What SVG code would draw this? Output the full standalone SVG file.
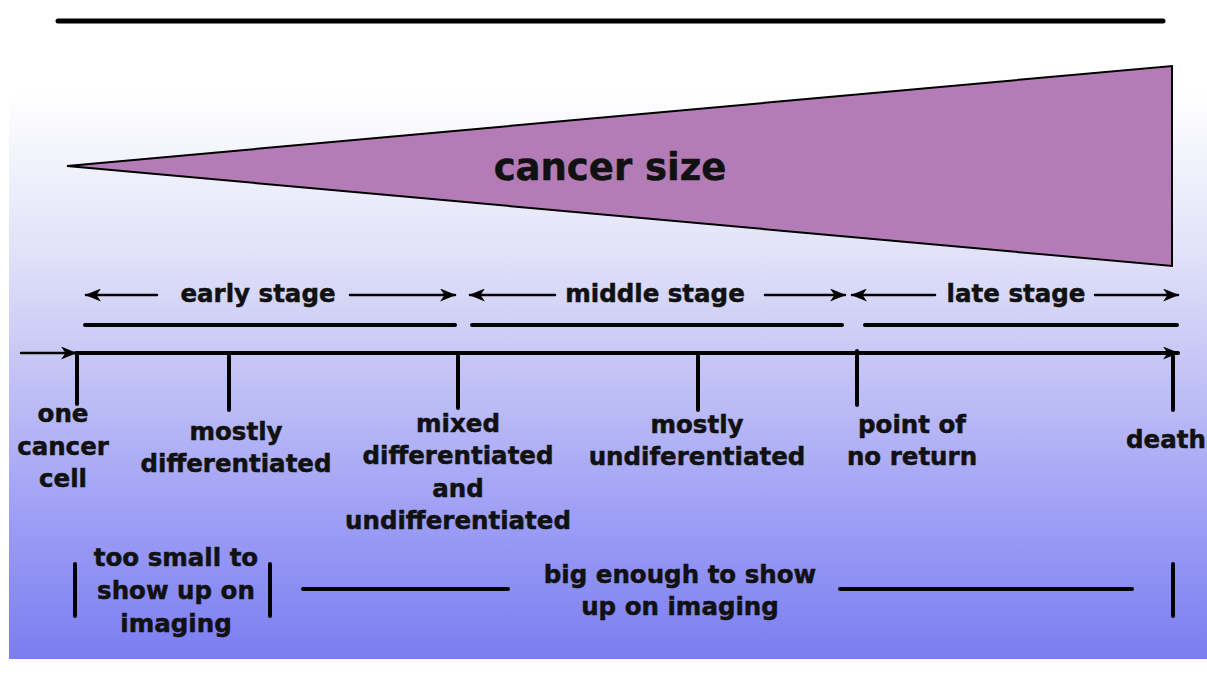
<svg xmlns="http://www.w3.org/2000/svg" width="1207" height="697" viewBox="0 0 1207 697">
<defs>
<linearGradient id="bg" x1="0" y1="0" x2="0" y2="1">
<stop offset="0" stop-color="#ffffff"/>
<stop offset="0.14" stop-color="#ffffff"/>
<stop offset="0.38" stop-color="#e2e2f9"/>
<stop offset="0.55" stop-color="#c6c6f6"/>
<stop offset="0.8" stop-color="#9b9cf5"/>
<stop offset="1" stop-color="#7b7df0"/>
</linearGradient>
<marker id="ah" viewBox="0 0 16 13" refX="15" refY="6.5" markerWidth="16" markerHeight="13" markerUnits="userSpaceOnUse" orient="auto">
<path d="M0,0 L16,6.5 L0,13 L4.5,6.5 Z" fill="#000"/>
</marker>
</defs>
<style>
text{font-family:"DejaVu Sans","Liberation Sans",sans-serif;font-weight:bold;fill:#111;stroke:#111;stroke-width:0.5;text-anchor:middle}
.lbl{font-size:24.5px}
.stg{font-size:24.5px}
.ln{stroke:#000;stroke-linecap:round;fill:none}
.thick{stroke-width:4}
.thin{stroke-width:2.5}
</style>
<rect x="9" y="0" width="1198" height="659" fill="url(#bg)"/>
<line class="ln" x1="58" y1="21" x2="1163" y2="21" stroke-width="5"/>

<g id="cancer-size">
<polygon points="67,166 1172,66 1172,266" fill="#b47cb6" stroke="#000" stroke-width="2"/>
<text x="610" y="180" font-size="37px">cancer size</text>
</g>

<g id="connectors">
<line class="ln thin" x1="157" y1="295" x2="86" y2="295" marker-end="url(#ah)"/>
<line class="ln thin" x1="350" y1="295" x2="455" y2="295" marker-end="url(#ah)"/>
<line class="ln thin" x1="555" y1="295" x2="470" y2="295" marker-end="url(#ah)"/>
<line class="ln thin" x1="765" y1="295" x2="845" y2="295" marker-end="url(#ah)"/>
<line class="ln thin" x1="935" y1="295" x2="852" y2="295" marker-end="url(#ah)"/>
<line class="ln thin" x1="1095" y1="295" x2="1178" y2="295" marker-end="url(#ah)"/>
<line class="ln thick" x1="85" y1="325" x2="455" y2="325"/>
<line class="ln thick" x1="472" y1="325" x2="842" y2="325"/>
<line class="ln thick" x1="865" y1="325" x2="1177" y2="325"/>
<line class="ln thin" x1="21" y1="353" x2="76" y2="353" marker-end="url(#ah)"/>
<line class="ln thick" x1="76" y1="353" x2="1178" y2="353" marker-end="url(#ah)"/>
<line class="ln thick" x1="77" y1="353" x2="77" y2="404"/>
<line class="ln thick" x1="229" y1="356" x2="229" y2="410"/>
<line class="ln thick" x1="458" y1="356" x2="458" y2="408"/>
<line class="ln thick" x1="698" y1="356" x2="698" y2="410"/>
<line class="ln thick" x1="857" y1="351" x2="857" y2="405"/>
<line class="ln thick" x1="1173" y1="356" x2="1173" y2="410"/>
<line class="ln thick" x1="75" y1="564" x2="75" y2="616"/>
<line class="ln thick" x1="270" y1="564" x2="270" y2="616"/>
<line class="ln thick" x1="303" y1="589" x2="508" y2="589"/>
<line class="ln thick" x1="840" y1="589" x2="1132" y2="589"/>
<line class="ln thick" x1="1173" y1="564" x2="1173" y2="616"/>
</g>

<g id="early-stage"><text class="stg" x="258" y="302">early stage</text></g>
<g id="middle-stage"><text class="stg" x="655" y="302">middle stage</text></g>
<g id="late-stage"><text class="stg" x="1016" y="302">late stage</text></g>

<g id="one-cancer-cell"><text class="lbl" x="63" y="422">one</text><text class="lbl" x="63" y="455">cancer</text><text class="lbl" x="63" y="487">cell</text></g>
<g id="mostly-differentiated"><text class="lbl" x="236" y="440">mostly</text><text class="lbl" x="236" y="472">differentiated</text></g>
<g id="mixed"><text class="lbl" x="458" y="432">mixed</text><text class="lbl" x="458" y="464">differentiated</text><text class="lbl" x="458" y="497">and</text><text class="lbl" x="458" y="529">undifferentiated</text></g>
<g id="mostly-undiferentiated"><text class="lbl" x="697" y="433">mostly</text><text class="lbl" x="697" y="465">undiferentiated</text></g>
<g id="point-of-no-return"><text class="lbl" x="912" y="433">point of</text><text class="lbl" x="912" y="465">no return</text></g>
<g id="death"><text class="lbl" x="1166" y="448">death</text></g>

<g id="too-small"><text class="lbl" x="176" y="566">too small to</text><text class="lbl" x="176" y="599">show up on</text><text class="lbl" x="176" y="632">imaging</text></g>
<g id="big-enough"><text class="lbl" x="680" y="583">big enough to show</text><text class="lbl" x="680" y="615">up on imaging</text></g>
</svg>
